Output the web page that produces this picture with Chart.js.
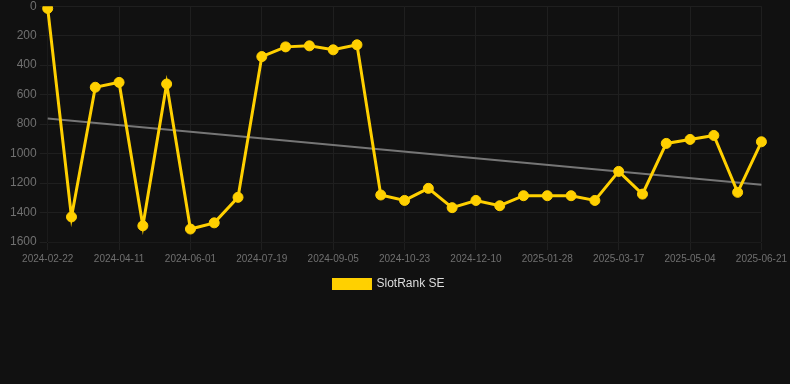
<!DOCTYPE html>
<html>
<head>
<meta charset="utf-8">
<script src="https://cdn.jsdelivr.net/npm/chart.js@4"></script>
<style>
  html, body { margin: 0; padding: 0; background: #111111; overflow: hidden; }
  #wrap { width: 790px; height: 304px; margin-top: -4px; position: relative; }
</style>
</head>
<body>
<div id="wrap"><canvas id="chart"></canvas></div>
<script>
const dates = [
  "2024-02-22", "2024-03-09", "2024-03-26", "2024-04-11", "2024-04-28", "2024-05-15",
  "2024-06-01", "2024-06-17", "2024-07-03", "2024-07-19", "2024-08-04", "2024-08-20",
  "2024-09-05", "2024-09-21", "2024-10-07", "2024-10-23", "2024-11-08", "2024-11-24",
  "2024-12-10", "2024-12-26", "2025-01-12", "2025-01-28", "2025-02-13", "2025-03-01",
  "2025-03-17", "2025-04-02", "2025-04-18", "2025-05-04", "2025-05-20", "2025-06-05",
  "2025-06-21"
];

const rankSE = [
  15, 1430, 550, 517, 1490, 528, 1512, 1470, 1297, 342, 276, 269, 296, 262, 1281, 1318,
  1236, 1367, 1318, 1354, 1286, 1286, 1286, 1318, 1121, 1275, 931, 904, 877, 1263, 920
];

// trend line: first and last values only
const trendStart = 762;
const trendEnd = 1211;

const yTicks = [0, 200, 400, 600, 800, 1000, 1200, 1400, 1600];

const trendData = dates.map((d, i) => (i === 0 ? trendStart : i === dates.length - 1 ? trendEnd : null));

const gold = "#FFD000";
const font = "Arial, 'Liberation Sans', sans-serif";

new Chart(document.getElementById("chart"), {
  type: "line",
  data: {
    labels: dates,
    datasets: [
      {
        label: "SlotRank SE",
        data: rankSE,
        borderColor: gold,
        backgroundColor: gold,
        borderWidth: 3,
        pointRadius: 5,
        pointBorderWidth: 1,
        pointBackgroundColor: gold,
        pointBorderColor: gold,
        tension: 0,
      },
      {
        label: "trend",
        data: trendData,
        borderColor: "#767676",
        borderWidth: 2,
        pointRadius: 0,
        spanGaps: true,
      },
    ],
  },
  options: {
    responsive: true,
    maintainAspectRatio: false,
    animation: false,
    layout: { padding: { right: 12 } },
    plugins: {
      legend: {
        position: "bottom",
        labels: {
          color: "#dddddd",
          boxWidth: 37,
          boxHeight: 9,
          font: { size: 12, family: font },
          filter: (item) => item.text !== "trend",
        },
      },
      tooltip: { enabled: false },
    },
    scales: {
      x: {
        ticks: {
          color: "#707070",
          font: { size: 10, family: font },
          maxRotation: 0,
          autoSkip: false,
          callback: function (value, index) {
            return index % 3 === 0 ? dates[index] : null;
          },
        },
        grid: { color: "#1f1f1f" },
      },
      y: {
        reverse: true,
        min: yTicks[0],
        max: yTicks[yTicks.length - 1],
        afterBuildTicks: (scale) => {
          scale.ticks = yTicks.map((v) => ({ value: v }));
        },
        afterFit: (scale) => {
          scale.width += 7;
        },
        ticks: {
          color: "#707070",
          font: { size: 12, family: font },
          callback: (v) => String(v),
        },
        grid: { color: "#1f1f1f" },
      },
    },
  },
});
</script>
</body>
</html>
